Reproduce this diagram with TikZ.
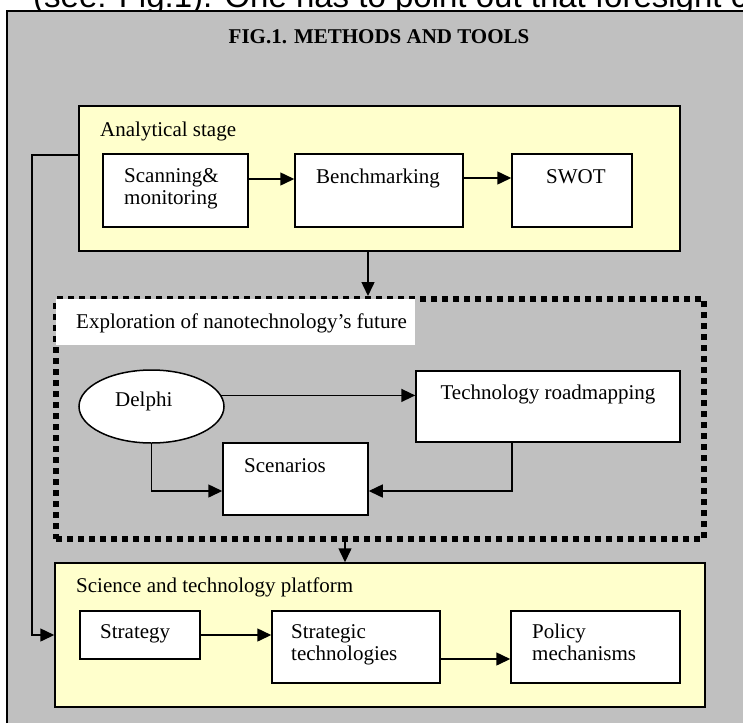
\documentclass[tikz,border=0pt]{standalone}
\usepackage{fontspec}
\setmainfont{Liberation Serif}
\newfontfamily\pagesans{Liberation Sans}
\usepackage{xcolor}
\usetikzlibrary{positioning,shapes.geometric,arrows.meta}
\definecolor{panelgray}{HTML}{C0C0C0}
\definecolor{stageyellow}{HTML}{FFFFCC}

\begin{document}
\begin{tikzpicture}[x=1pt,y=-1pt,
	box/.style={draw=black, line width=1.5pt, fill=white, inner sep=0pt},
	stagebox/.style={box, fill=stageyellow},
	lbl/.style={anchor=base west, inner sep=0pt, align=left, font=\fontsize{21}{22}\selectfont},
	arr/.style={line width=1.5pt, -{Triangle[length=14pt,width=13pt]}},
	dotframe/.style={draw=black, line width=6pt, dash pattern=on 6pt off 5pt, inner sep=0pt}]
	% Page slice: the scan is cut at these edges.
	\path[use as bounding box] (0,0) rectangle (743,723);
	\clip (0,0) rectangle (743,723);
	\fill[white] (0,0) rectangle (743,723);

	% Running text above the figure, only its lower part shows.
	\node[anchor=base west, inner sep=0pt, font=\pagesans\fontsize{33}{36}\selectfont] (pagetext) at (33,7.5)
		{(see: Fig.1). One has to point out that foresight c};

	% Gray figure panel.
	\fill[panelgray] (7,11) rectangle (743,723);
	\draw[line width=1.5pt] (7,723) -- (7,11) -- (743,11);
	\node[anchor=base, inner sep=0pt, font=\bfseries\fontsize{21}{22}\selectfont] (figtitle) at (379,43)
		{FIG.1. METHODS AND TOOLS};

	% Analytical stage.
	\node[stagebox, minimum width=601pt, minimum height=145pt] (analytic) at (379.5,178.5) {};
	\node[lbl] (analytict) at (100,136) {Analytical stage};
	\node[box, minimum width=145pt, minimum height=73pt] (scan) at (175.5,190.5) {};
	\node[box, minimum width=168pt, minimum height=73pt] (bench) at (379,190.5) {};
	\node[box, minimum width=120pt, minimum height=73pt] (swot) at (572,190.5) {};
	\node[lbl] (scant) at (124,204) {Scanning\&\\monitoring};
	\node[lbl] (bencht) at (316,183) {Benchmarking};
	\node[lbl] (swott) at (546,183) {SWOT};
	\draw[arr] (scan.east |- 0,179) -- (bench.west |- 0,179);
	\draw[arr] (bench.east |- 0,178) -- (swot.west |- 0,178);

	% Exploration of the future, thick dotted frame.
	\node[dotframe, minimum width=648pt, minimum height=240pt] (explore) at (380,419) {};
	\fill[white] (56,299) rectangle (415,345);
	\node[lbl] (exploret) at (76,328) {Exploration of nanotechnology’s future};
	\node[ellipse, draw=black, line width=1.5pt, fill=white, inner sep=0pt,
		minimum width=145pt, minimum height=73pt] (delphi) at (151.5,406.5) {};
	\node[lbl] (delphit) at (115,406) {Delphi};
	\node[box, minimum width=264pt, minimum height=71pt] (roadmap) at (548,406.5) {};
	\node[lbl, anchor=base] (roadmapt) at (548,399) {Technology roadmapping};
	\node[box, minimum width=145pt, minimum height=72pt] (scen) at (295.5,479) {};
	\node[lbl] (scent) at (244,472) {Scenarios};
	\draw[arr] (delphi.9.5) -- (delphi.9.5 -| roadmap.west);
	\draw[arr] (delphi.south) |- (scen.west |- 0,491);
	\draw[arr] (roadmap.south -| 512,0) |- (scen.east |- 0,491);

	% Science and technology platform.
	\node[stagebox, minimum width=650pt, minimum height=144pt] (science) at (380,635) {};
	\node[lbl] (sciencet) at (76,592) {Science and technology platform};
	\node[box, minimum width=120pt, minimum height=48pt] (strategy) at (140,635) {};
	\node[box, minimum width=168pt, minimum height=72pt] (stratech) at (356,647) {};
	\node[box, minimum width=169pt, minimum height=72pt] (policy) at (595.5,647) {};
	\node[lbl] (strategyt) at (100,638) {Strategy};
	\node[lbl] (stratecht) at (291,660) {Strategic\\technologies};
	\node[lbl] (policyt) at (532,660) {Policy\\mechanisms};
	\draw[arr] (strategy.east) -- (strategy.east -| stratech.west);
	\draw[arr] (stratech.east |- 0,659) -- (policy.west |- 0,659);

	% Links between the stages.
	\coordinate (leftrail) at (32,0);
	\draw[arr] (analytic.south -| 368,0) -- (explore.north -| 368,0);
	\draw[arr] (explore.south -| 345,0) -- (science.north -| 345,0);
	\draw[arr] (analytic.west |- 0,155) -| (leftrail |- science.west) -- (science.west);
\end{tikzpicture}
\end{document}
